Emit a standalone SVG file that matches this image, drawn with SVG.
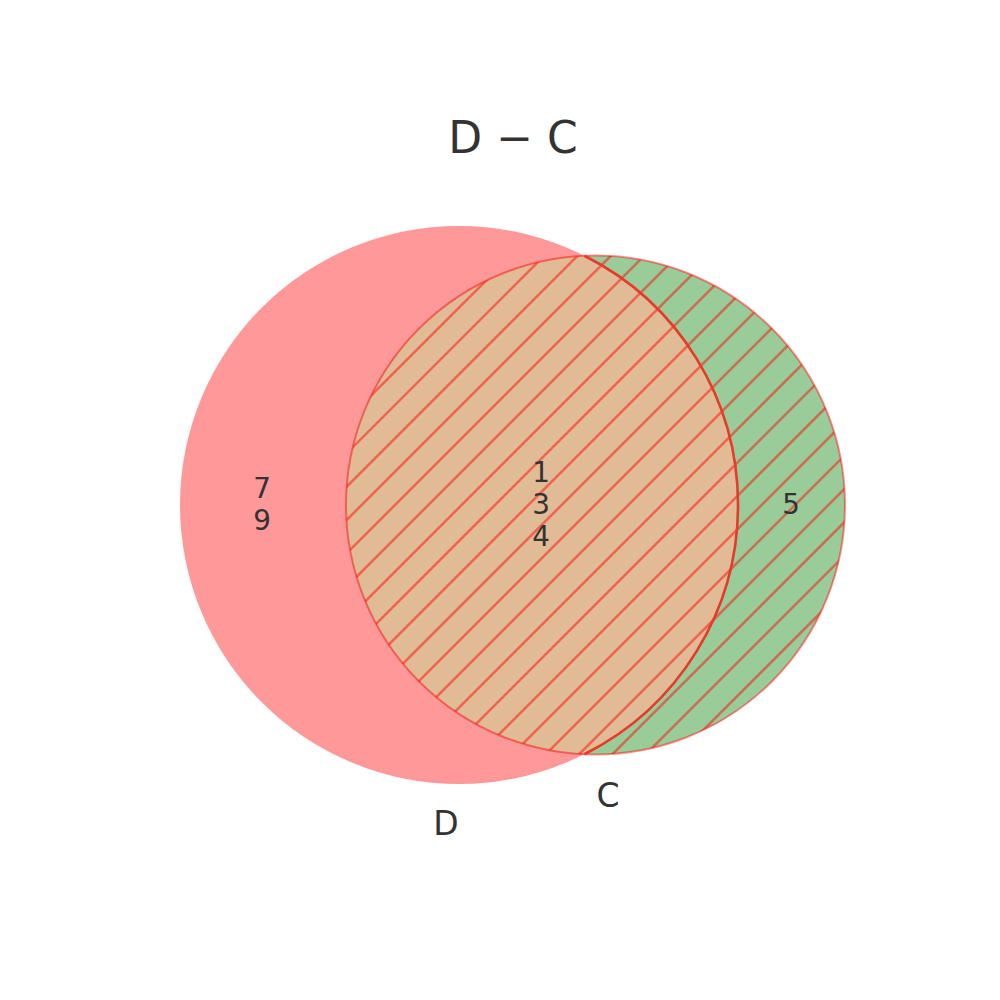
<svg xmlns="http://www.w3.org/2000/svg" width="1000" height="1000" viewBox="0 0 1000 1000">
  <style>
    text { font-family: "DejaVu Sans", "Liberation Sans", sans-serif; fill: #333333; text-anchor: middle; }
    .num { font-size: 27.8px; }
    .set { font-size: 33px; }
    .title { font-size: 44px; }
    .hatch { stroke: #ff0000; stroke-opacity: 0.45; stroke-width: 2.6; fill: none; }
  </style>
  <defs>
    <clipPath id="clipC">
      <circle cx="595.5" cy="505" r="249.5"/>
    </clipPath>
  </defs>
  <rect x="0" y="0" width="1000" height="1000" fill="#ffffff"/>
  <g id="D">
    <circle cx="459" cy="505" r="279" fill="#ff9999"/>
  </g>
  <g id="C">
    <circle cx="595.5" cy="505" r="249.5" fill="#99cc99"/>
  </g>
  <g id="D-and-C">
    <path d="M584.4,255.75 A279,279 0 0 1 584.4,754.25 A249.5,249.5 0 0 1 584.4,255.75 Z" fill="#e0bb96"/>
  </g>
  <g id="hatch" clip-path="url(#clipC)">
    <path class="hatch" d="M766.67,0 L-233.33,1000 M800,0 L-200,1000 M833.33,0 L-166.67,1000 M866.67,0 L-133.33,1000 M900,0 L-100,1000 M933.33,0 L-66.67,1000 M966.67,0 L-33.33,1000 M1000,0 L0,1000 M1033.33,0 L33.33,1000 M1066.67,0 L66.67,1000 M1100,0 L100,1000 M1133.33,0 L133.33,1000 M1166.67,0 L166.67,1000 M1200,0 L200,1000 M1233.33,0 L233.33,1000 M1266.67,0 L266.67,1000 M1300,0 L300,1000 M1333.33,0 L333.33,1000 M1366.67,0 L366.67,1000 M1400,0 L400,1000 M1433.33,0 L433.33,1000"/>
  </g>
  <g id="outlines">
    <circle cx="595.5" cy="505" r="249.5" fill="none" stroke="#ff0000" stroke-opacity="0.45" stroke-width="2"/>
    <path d="M584.4,255.75 A279,279 0 0 1 584.4,754.25" fill="none" stroke="#e8392a" stroke-width="2.6"/>
  </g>
  <g id="labels">
    <text class="title" x="513" y="153">D − C</text>
    <text class="num" x="262" y="498">7</text>
    <text class="num" x="262" y="530">9</text>
    <text class="num" x="541" y="482">1</text>
    <text class="num" x="541" y="514">3</text>
    <text class="num" x="541" y="546">4</text>
    <text class="num" x="791" y="514">5</text>
    <text class="set" x="446" y="835">D</text>
    <text class="set" x="608" y="807">C</text>
  </g>
</svg>
